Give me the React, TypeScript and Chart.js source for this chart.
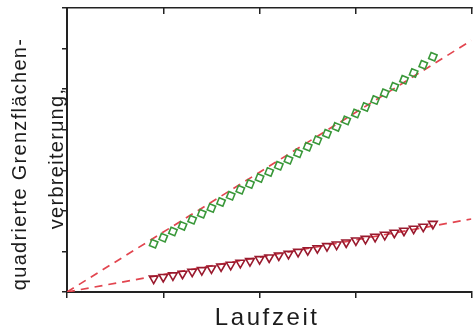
import React, { useEffect, useRef } from "react";
import { Chart, registerables } from "chart.js";

Chart.register(...registerables);

// ---- data ----
const timeValues = [0.9, 1.0, 1.1, 1.2, 1.3, 1.4, 1.5, 1.6, 1.7, 1.8, 1.9, 2.0, 2.1, 2.2, 2.3, 2.4, 2.5, 2.6, 2.7, 2.8, 2.9, 3.0, 3.1, 3.2, 3.3, 3.4, 3.5, 3.6, 3.7, 3.8];
const greenValues = [1.19, 1.34, 1.49, 1.63, 1.78, 1.93, 2.07, 2.22, 2.37, 2.52, 2.66, 2.81, 2.96, 3.11, 3.26, 3.42, 3.58, 3.74, 3.90, 4.07, 4.23, 4.40, 4.56, 4.73, 4.90, 5.06, 5.23, 5.40, 5.60, 5.80];
const redValues = [0.33, 0.37, 0.41, 0.45, 0.50, 0.54, 0.58, 0.63, 0.67, 0.72, 0.76, 0.81, 0.85, 0.90, 0.94, 0.99, 1.03, 1.08, 1.13, 1.17, 1.22, 1.27, 1.31, 1.36, 1.41, 1.46, 1.51, 1.56, 1.61, 1.68];
const fitTime = [0, 4.2];
const greenFit = [0, 6.2];
const redFit = [0, 1.8];

const xMin = 0;
const xMax = 4.2;
const yMin = 0;
const yMax = 7;

const xTitle = "Laufzeit";
const yTitleLines = ["quadrierte Grenzflächen-", "verbreiterung,"];

const AXIS_COLOR = "#222222";
const TEXT_COLOR = "#1c1c1c";
const GREEN = "#3a983a";
const DARK_RED = "#9a1a2e";
const FIT_RED = "#e2454f";

const titlePlugin = {
  id: "axisTitles",
  afterDraw(chart: any) {
    const { ctx, chartArea } = chart;
    const midY = (chartArea.top + chartArea.bottom) / 2;
    const midX = (chartArea.left + chartArea.right) / 2;
    ctx.save();
    ctx.fillStyle = TEXT_COLOR;
    ctx.textAlign = "center";
    ctx.textBaseline = "middle";
    ctx.font = '20px "Liberation Sans", Arial, sans-serif';
    ctx.letterSpacing = "1.3px";
    const offsets = [
      { dx: -46.5, dy: 14 },
      { dx: -9.5, dy: 8.5 },
    ];
    yTitleLines.forEach((line, i) => {
      ctx.save();
      ctx.translate(chartArea.left + offsets[i].dx, midY + offsets[i].dy);
      ctx.rotate(-Math.PI / 2);
      ctx.fillText(line, 0, 0);
      ctx.restore();
    });
    ctx.font = '24px "Liberation Sans", Arial, sans-serif';
    ctx.letterSpacing = "2.6px";
    ctx.fillText(xTitle, midX - 2, chartArea.bottom + 26);
    ctx.restore();
  },
};

export default function App() {
  const canvasRef = useRef<HTMLCanvasElement | null>(null);

  useEffect(() => {
    if (!canvasRef.current) return;
    const chart = new Chart(canvasRef.current, {
      type: "scatter",
      data: {
        datasets: [
          {
            label: "green",
            data: timeValues.map((t, i) => ({ x: t, y: greenValues[i] })),
            showLine: false,
            pointStyle: "rect",
            rotation: 22,
            radius: 4.6,
            borderColor: GREEN,
            backgroundColor: "rgba(0,0,0,0)",
            borderWidth: 1.6,
            order: 1,
          },
          {
            label: "red",
            data: timeValues.map((t, i) => ({ x: t, y: redValues[i] })),
            showLine: false,
            pointStyle: "triangle",
            rotation: 180,
            radius: 5,
            borderColor: DARK_RED,
            backgroundColor: "rgba(0,0,0,0)",
            borderWidth: 1.6,
            order: 1,
          },
          {
            label: "fit green",
            data: fitTime.map((t, i) => ({ x: t, y: greenFit[i] })),
            showLine: true,
            pointRadius: 0,
            borderColor: FIT_RED,
            borderWidth: 1.7,
            borderDash: [8, 6],
            order: 2,
          },
          {
            label: "fit red",
            data: fitTime.map((t, i) => ({ x: t, y: redFit[i] })),
            showLine: true,
            pointRadius: 0,
            borderColor: FIT_RED,
            borderWidth: 1.7,
            borderDash: [8, 6],
            order: 2,
          },
        ],
      },
      options: {
        responsive: false,
        animation: false,
        events: [],
        layout: { padding: { top: 8, left: 0, right: 0, bottom: 0 } },
        plugins: {
          legend: { display: false },
          tooltip: { enabled: false },
          title: { display: false },
        },
        scales: {
          x: {
            type: "linear",
            position: "bottom",
            min: xMin,
            max: xMax,
            ticks: { display: false, stepSize: 1 },
            grid: {
              drawOnChartArea: false,
              drawTicks: true,
              tickLength: 6,
              color: AXIS_COLOR,
              lineWidth: 1.5,
            },
            border: { display: true, color: AXIS_COLOR, width: 2 },
            afterFit: (s: any) => {
              s.height = 41;
            },
          },
          x2: {
            type: "linear",
            position: "top",
            min: xMin,
            max: xMax,
            ticks: { display: false, stepSize: 1 },
            grid: {
              drawOnChartArea: false,
              drawTicks: true,
              tickLength: -6,
              color: AXIS_COLOR,
              lineWidth: 1.5,
            },
            border: { display: true, color: AXIS_COLOR, width: 1.5 },
            afterFit: (s: any) => {
              s.height = 0;
            },
          },
          y: {
            type: "linear",
            position: "left",
            min: yMin,
            max: yMax,
            ticks: { display: false, stepSize: 1 },
            grid: {
              drawOnChartArea: false,
              drawTicks: true,
              tickLength: 5,
              color: AXIS_COLOR,
              lineWidth: 1.5,
            },
            border: { display: true, color: AXIS_COLOR, width: 2 },
            afterFit: (s: any) => {
              s.width = 67;
            },
          },
        },
      },
      plugins: [titlePlugin],
    } as any);
    return () => chart.destroy();
  }, []);

  return (
    <div
      style={{
        position: "fixed",
        left: 0,
        top: 0,
        width: 475,
        height: 333,
        overflow: "hidden",
        background: "#ffffff",
      }}
    >
      <canvas ref={canvasRef} width={478} height={333} style={{ display: "block" }} />
    </div>
  );
}
